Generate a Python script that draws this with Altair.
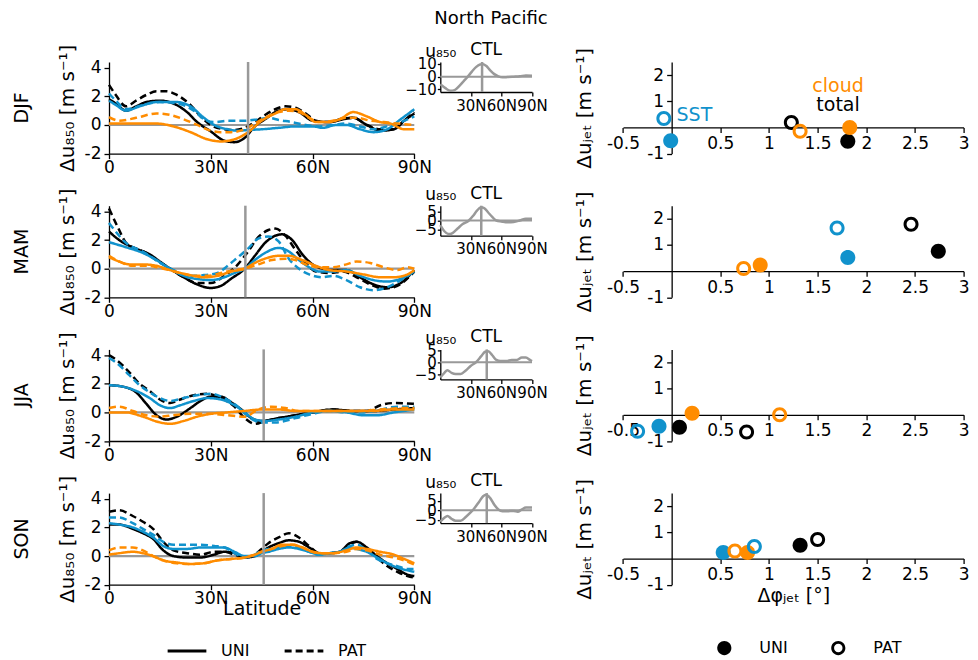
import altair as alt
import pandas as pd

BLACK = "#000000"
BLUE = "#1192cc"
ORANGE = "#ff8c00"
GRAY = "#999999"

SEASONS = ["DJF", "MAM", "JJA", "SON"]
VARS = ["total", "SST", "cloud"]
TYPES = ["UNI", "PAT"]
JET_LAT = [41.0, 40.2, 45.6, 45.6]

# ---- zonal-mean wind response curves (lat, du850) ----
DJF_TOTAL_UNI = [(0,1.8),(2,1.5),(5,1.0),(8,1.3),(11,1.6),(15,1.7),(19,1.5),(23,0.9),(26,0.2),(30,-0.45),(34,-1.1),(37,-1.2),(40,-0.9),(43,-0.1),(46,0.4),(50,1.0),(53,1.1),(56,0.9),(60,0.3),(65,0.2),(69,0.4),(72,0.5),(76,0.0),(80,-0.4),(84,-0.3),(87,0.3),(90,0.8)]
DJF_TOTAL_PAT = [(0,2.8),(2,2.1),(5,1.3),(8,1.7),(11,2.1),(14,2.35),(17,2.35),(20,2.1),(24,1.4),(27,0.6),(30,0.0),(34,-0.3),(37,-0.35),(40,-0.2),(43,0.2),(46,0.7),(49,1.1),(52,1.3),(55,1.2),(58,0.8),(61,0.3),(65,0.2),(69,0.45),(72,0.5),(76,0.0),(80,-0.3),(84,-0.3),(87,0.3),(90,0.9)]
DJF_SST_UNI = [(0,1.7),(2,1.4),(5,1.0),(9,1.3),(14,1.6),(20,1.6),(24,1.3),(28,0.5),(31,0.0),(35,-0.3),(38,-0.4),(41,-0.35),(45,-0.3),(50,-0.2),(55,-0.1),(60,-0.1),(63,-0.2),(67,0.0),(70,0.0),(74,-0.3),(78,-0.5),(82,-0.3),(86,0.4),(90,1.1)]
DJF_SST_PAT = [(0,2.2),(2,1.7),(5,1.1),(10,1.4),(15,1.6),(20,1.5),(25,1.0),(28,0.4),(31,0.2),(35,0.3),(40,0.3),(44,0.4),(47,0.5),(50,0.35),(54,0.2),(58,0.0),(62,-0.1),(66,0.0),(70,0.1),(74,-0.1),(78,-0.3),(82,-0.1),(86,0.2),(90,0.6)]
DJF_CLOUD_UNI = [(0,0.1),(5,0.1),(10,0.1),(14,0.1),(19,-0.1),(24,-0.5),(29,-1.0),(33,-1.15),(37,-1.0),(41,-0.5),(45,0.3),(49,0.8),(52,1.1),(55,1.1),(58,0.7),(61,0.2),(64,0.2),(68,0.4),(72,0.9),(76,0.6),(80,0.2),(83,0.1),(87,-0.3),(90,-0.3)]
DJF_CLOUD_PAT = [(0,0.55),(3,0.3),(8,0.5),(14,0.8),(18,0.7),(22,0.4),(26,0.0),(30,-0.4),(33,-0.5),(36,-0.5),(40,-0.3),(43,0.1),(46,0.5),(50,0.9),(53,1.0),(56,0.9),(59,0.5),(62,0.2),(66,0.3),(70,0.5),(73,0.5),(77,0.3),(81,0.2),(85,0.1),(90,0.0)]

MAM_TOTAL_UNI = [(0,2.6),(3,2.0),(6,1.6),(9,1.3),(12,1.0),(15,0.5),(18,0.0),(22,-0.6),(26,-1.1),(30,-1.35),(33,-1.2),(36,-0.7),(40,0.0),(43,0.9),(46,1.8),(49,2.3),(51,2.4),(54,2.0),(57,1.0),(60,0.3),(63,0.0),(66,-0.1),(70,-0.1),(74,-0.6),(78,-1.1),(82,-1.3),(86,-1.0),(90,-0.1)]
MAM_TOTAL_PAT = [(0,4.2),(3,2.7),(5,1.8),(8,1.4),(11,1.1),(14,0.6),(18,0.0),(22,-0.6),(26,-1.0),(30,-1.0),(34,-0.5),(38,0.3),(41,1.2),(44,2.2),(47,2.7),(49,2.8),(52,2.3),(55,1.3),(58,0.4),(61,-0.2),(65,-0.3),(69,-0.2),(73,-0.6),(77,-1.1),(81,-1.4),(85,-1.2),(90,-0.2)]
MAM_SST_UNI = [(0,1.85),(5,1.5),(10,1.1),(14,0.6),(18,0.0),(22,-0.5),(27,-0.75),(30,-0.8),(34,-0.6),(37,-0.3),(40,0.0),(43,0.6),(46,1.1),(50,1.45),(53,1.2),(56,0.6),(59,0.1),(62,-0.2),(66,-0.2),(70,-0.1),(74,-0.5),(78,-0.8),(82,-0.9),(86,-0.7),(90,-0.2)]
MAM_SST_PAT = [(0,3.2),(3,2.3),(5,1.8),(9,1.3),(12,0.9),(15,0.4),(19,-0.1),(24,-0.5),(28,-0.45),(32,-0.3),(35,0.2),(38,0.8),(41,1.4),(44,2.1),(47,2.25),(50,1.9),(53,0.7),(56,0.0),(59,-0.4),(63,-0.6),(66,-0.5),(70,-0.8),(74,-1.3),(78,-1.5),(82,-1.3),(86,-0.8),(90,-0.2)]
MAM_CLOUD_UNI = [(0,0.8),(3,0.5),(6,0.3),(10,0.3),(14,0.2),(18,-0.1),(23,-0.4),(28,-0.6),(32,-0.5),(36,-0.2),(40,0.0),(43,0.4),(46,0.7),(50,0.9),(53,0.9),(57,0.6),(61,0.2),(65,-0.1),(70,-0.2),(75,-0.4),(80,-0.6),(84,-0.6),(88,-0.4),(90,-0.1)]
MAM_CLOUD_PAT = [(0,0.9),(3,0.5),(7,0.2),(11,0.2),(16,0.0),(21,-0.3),(25,-0.5),(29,-0.5),(33,-0.3),(37,-0.1),(40,0.0),(44,0.3),(48,0.6),(52,0.7),(55,0.6),(58,0.3),(62,0.1),(66,0.1),(70,0.3),(73,0.5),(77,0.4),(81,0.1),(85,-0.1),(88,0.1),(90,0.0)]

JJA_TOTAL_UNI = [(0,1.9),(4,1.8),(8,1.4),(11,0.6),(14,-0.2),(17,-0.5),(20,-0.3),(24,0.3),(27,0.8),(30,1.1),(33,1.1),(36,0.7),(39,0.2),(42,-0.4),(45,-0.6),(50,-0.4),(55,-0.2),(60,0.0),(66,0.2),(72,0.1),(78,0.1),(84,0.2),(90,0.3)]
JJA_TOTAL_PAT = [(0,4.0),(2,3.7),(6,2.8),(9,2.0),(12,1.5),(15,0.9),(18,0.65),(21,0.9),(25,1.2),(29,1.3),(33,1.0),(37,0.4),(40,-0.4),(43,-0.8),(46,-0.6),(50,-0.4),(55,-0.2),(60,0.0),(66,0.2),(72,0.1),(76,0.1),(80,0.5),(84,0.65),(90,0.6)]
JJA_SST_UNI = [(0,1.9),(4,1.8),(8,1.5),(12,1.0),(15,0.5),(18,0.3),(21,0.5),(25,0.8),(29,1.0),(33,0.9),(37,0.5),(40,0.0),(43,-0.5),(46,-0.6),(50,-0.5),(55,-0.3),(60,0.0),(65,0.1),(70,0.0),(75,-0.2),(79,-0.2),(84,0.0),(90,0.2)]
JJA_SST_PAT = [(0,3.8),(2,3.5),(6,2.6),(9,1.9),(12,1.4),(15,1.0),(18,0.8),(22,1.0),(26,1.2),(30,1.3),(34,1.0),(38,0.4),(41,-0.3),(45,-0.7),(49,-0.7),(55,-0.4),(60,-0.1),(65,0.1),(70,0.0),(75,0.0),(80,0.2),(85,0.4),(90,0.4)]
JJA_CLOUD_UNI = [(0,0.0),(5,0.0),(10,-0.3),(15,-0.7),(18,-0.8),(22,-0.6),(26,-0.3),(30,-0.1),(35,0.0),(40,0.1),(45,0.2),(50,0.2),(55,0.1),(60,0.1),(66,0.1),(72,0.1),(78,0.1),(84,0.2),(90,0.2)]
JJA_CLOUD_PAT = [(0,0.3),(3,0.4),(7,0.1),(11,-0.2),(15,-0.3),(19,-0.2),(24,-0.1),(30,-0.1),(35,-0.2),(40,-0.3),(44,0.2),(48,0.4),(52,0.3),(56,0.1),(62,0.1),(68,0.1),(74,0.1),(80,0.2),(86,0.3),(90,0.3)]

SON_TOTAL_UNI = [(0,2.2),(3,2.2),(7,1.9),(10,1.6),(13,1.2),(16,0.4),(19,0.0),(23,-0.1),(27,-0.1),(31,0.1),(34,0.3),(37,0.2),(40,-0.1),(43,0.0),(45,0.3),(47,0.6),(50,0.9),(53,1.1),(56,1.0),(59,0.6),(62,0.2),(65,0.2),(68,0.3),(71,0.9),(73,1.0),(76,0.6),(79,0.0),(82,-0.5),(85,-0.9),(88,-1.3),(90,-1.4)]
SON_TOTAL_PAT = [(0,3.1),(3,3.2),(7,2.8),(10,2.4),(13,1.9),(16,1.0),(19,0.4),(23,0.2),(27,0.1),(31,0.3),(34,0.3),(37,0.1),(40,-0.1),(43,0.1),(45,0.5),(47,0.9),(50,1.3),(53,1.6),(56,1.3),(59,0.7),(62,0.2),(65,0.2),(68,0.3),(71,0.8),(73,1.0),(76,0.5),(79,-0.1),(82,-0.7),(85,-1.1),(88,-1.4),(90,-1.5)]
SON_SST_UNI = [(0,2.3),(3,2.2),(7,2.0),(10,1.7),(13,1.3),(16,0.7),(19,0.5),(23,0.5),(27,0.6),(31,0.6),(34,0.6),(37,0.3),(40,0.0),(43,0.0),(45,0.2),(47,0.3),(50,0.5),(53,0.6),(56,0.5),(59,0.3),(62,0.1),(65,0.2),(68,0.3),(71,0.6),(73,0.5),(76,0.3),(79,-0.1),(82,-0.5),(85,-0.8),(88,-1.0),(90,-1.1)]
SON_SST_PAT = [(0,2.7),(3,2.7),(7,2.3),(10,1.9),(13,1.5),(16,1.0),(19,0.8),(23,0.8),(27,0.8),(31,0.7),(34,0.6),(37,0.2),(40,-0.1),(43,0.1),(45,0.4),(47,0.5),(50,0.6),(53,0.7),(56,0.6),(59,0.3),(62,0.1),(65,0.2),(68,0.3),(71,0.7),(73,0.8),(76,0.4),(79,-0.2),(82,-0.5),(85,-0.7),(88,-0.9),(90,-0.9)]
SON_CLOUD_UNI = [(0,0.1),(3,0.2),(7,0.3),(10,0.2),(13,0.0),(16,-0.3),(20,-0.45),(24,-0.55),(28,-0.5),(32,-0.3),(36,-0.2),(40,-0.1),(43,0.1),(45,0.3),(48,0.5),(51,0.8),(54,0.8),(57,0.6),(60,0.3),(63,0.2),(66,0.2),(70,0.4),(73,0.6),(76,0.5),(80,0.3),(84,0.1),(87,-0.2),(90,-0.5)]
SON_CLOUD_PAT = [(0,0.4),(3,0.6),(7,0.6),(10,0.4),(13,0.0),(16,-0.3),(20,-0.5),(24,-0.55),(28,-0.5),(32,-0.3),(36,-0.2),(40,-0.1),(43,0.1),(45,0.3),(48,0.5),(51,0.7),(54,0.8),(57,0.6),(60,0.3),(63,0.2),(66,0.2),(70,0.3),(73,0.5),(76,0.4),(80,0.1),(84,-0.1),(87,-0.3),(90,-0.6)]

CURVES = {
    "DJF": {("total", "UNI"): DJF_TOTAL_UNI, ("total", "PAT"): DJF_TOTAL_PAT,
            ("SST", "UNI"): DJF_SST_UNI, ("SST", "PAT"): DJF_SST_PAT,
            ("cloud", "UNI"): DJF_CLOUD_UNI, ("cloud", "PAT"): DJF_CLOUD_PAT},
    "MAM": {("total", "UNI"): MAM_TOTAL_UNI, ("total", "PAT"): MAM_TOTAL_PAT,
            ("SST", "UNI"): MAM_SST_UNI, ("SST", "PAT"): MAM_SST_PAT,
            ("cloud", "UNI"): MAM_CLOUD_UNI, ("cloud", "PAT"): MAM_CLOUD_PAT},
    "JJA": {("total", "UNI"): JJA_TOTAL_UNI, ("total", "PAT"): JJA_TOTAL_PAT,
            ("SST", "UNI"): JJA_SST_UNI, ("SST", "PAT"): JJA_SST_PAT,
            ("cloud", "UNI"): JJA_CLOUD_UNI, ("cloud", "PAT"): JJA_CLOUD_PAT},
    "SON": {("total", "UNI"): SON_TOTAL_UNI, ("total", "PAT"): SON_TOTAL_PAT,
            ("SST", "UNI"): SON_SST_UNI, ("SST", "PAT"): SON_SST_PAT,
            ("cloud", "UNI"): SON_CLOUD_UNI, ("cloud", "PAT"): SON_CLOUD_PAT},
}

# ---- CTL climatology insets (lat, u850) ----
CTL_DJF = [(0,-6),(5,-9),(10,-11),(14,-10.5),(19,-7),(23,-3.5),(27,0),(31,4),(35,7.5),(39,9.5),(42,9.8),(45,8.5),(49,5),(53,2),(57,0.3),(61,-0.5),(66,-0.3),(72,0),(78,0.3),(84,1),(90,0.8)]
CTL_MAM = [(0,-2.6),(4,-6),(8,-7.6),(12,-7),(17,-4.5),(22,-2),(28,0),(32,2.5),(36,5.5),(40,7.4),(43,7),(47,4.5),(51,2),(55,0),(60,-0.5),(66,-1),(72,-0.8),(78,0),(84,1),(90,1)]
CTL_JJA = [(0,-6.5),(4,-4.5),(7,-3.4),(11,-4.5),(15,-5),(20,-5),(25,-3.5),(30,-1.5),(35,0),(40,2.5),(44,4.5),(47,4.7),(51,3),(55,1),(59,0.5),(65,0.5),(70,1),(75,1),(80,2),(84,2),(88,1),(90,0.5)]
CTL_SON = [(0,-6),(4,-4),(7,-3),(11,-4.5),(15,-5.5),(20,-5.5),(25,-3.5),(30,-1),(34,1.5),(38,4.5),(42,7.5),(45,8.3),(49,6.5),(53,3),(57,0.5),(61,-0.5),(66,-0.5),(72,-0.3),(76,-0.7),(80,0.5),(84,1.5),(90,1.5)]
CTL = {"DJF": CTL_DJF, "MAM": CTL_MAM, "JJA": CTL_JJA, "SON": CTL_SON}
CTL_YDOM = {"DJF": [-12, 11.5], "MAM": [-8.5, 8.3], "JJA": [-7.3, 5.5], "SON": [-6.8, 9.2]}
CTL_YTICKS = {"DJF": [-10, 0, 10], "MAM": [-5, 0, 5], "JJA": [-5, 0, 5], "SON": [-5, 0, 5]}

# ---- jet shift / strength responses, order: total, SST, cloud ----
DPHI = {"DJF": {"UNI": [1.81, -0.01, 1.83], "PAT": [1.23, -0.08, 1.32]},
        "MAM": {"UNI": [2.74, 1.81, 0.91], "PAT": [2.46, 1.70, 0.74]},
        "JJA": {"UNI": [0.08, -0.13, 0.21], "PAT": [0.77, -0.35, 1.11]},
        "SON": {"UNI": [1.32, 0.53, 0.78], "PAT": [1.50, 0.85, 0.65]}}
DUJET = {"DJF": {"UNI": [-0.53, -0.51, 0.0], "PAT": [0.19, 0.34, -0.15]},
         "MAM": {"UNI": [0.76, 0.52, 0.23], "PAT": [1.79, 1.65, 0.10]},
         "JJA": {"UNI": [-0.47, -0.44, 0.06], "PAT": [-0.66, -0.63, 0.0]},
         "SON": {"UNI": [0.51, 0.23, 0.23], "PAT": [0.73, 0.46, 0.29]}}

ANNOT_TEXT = ["cloud", "total", "SST"]
ANNOT_VAR = ["cloud", "total", "SST"]
ANNOT_X = [1.71, 1.71, 0.05]
ANNOT_Y = [1.57, 0.86, 0.48]
ANNOT_ALIGN = ["center", "center", "left"]

FONT = "DejaVu Sans"
LW, LH = 305.3, 91.6
IW, IH = 91.7, 30
RW = 406.0
X_RANGE0 = 65.4
HYPHEN = "replace(format(datum.value, '~g'), '\u2212', '-')"

color_scale = alt.Scale(domain=VARS, range=[BLACK, BLUE, ORANGE])
dash_scale = alt.Scale(domain=TYPES, range=[[1, 0], [7, 4]])
CIRCLE = "M-1,0A1,1,0,1,0,1,0A1,1,0,1,0,-1,0Z"
RING = CIRCLE + "M-0.6,0A0.6,0.6,0,1,1,0.6,0A0.6,0.6,0,1,1,-0.6,0Z"
shape_scale = alt.Scale(domain=TYPES, range=[CIRCLE, RING])


def left_chart(i, s):
    rows = []
    for var in VARS:
        for typ in TYPES:
            for lat, v in CURVES[s][(var, typ)]:
                rows.append({"lat": lat, "du": v, "var": var, "type": typ})
    df = pd.DataFrame(rows)
    last = i == 3
    xax = alt.Axis(values=[0, 30, 60, 90],
                   labelExpr="datum.value == 0 ? '0' : datum.value + 'N'",
                   title="Latitude" if last else None, labelFontSize=17,
                   titleFontSize=19, tickSize=5, labelPadding=1, titlePadding=-7)
    yax = alt.Axis(values=[-2, 0, 2, 4], labelExpr=HYPHEN, title="Δu₈₅₀ [m s⁻¹]",
                   titleFontSize=20, labelFontSize=17, tickSize=5, labelPadding=3,
                   titleX=-42, titleY=LH / 2, titleAngle=270, titleAlign="center",
                   titleBaseline="middle")
    xs = alt.Scale(domain=[0, 90], nice=False)
    ys = alt.Scale(domain=[-2, 4.4], nice=False, zero=False)
    x = alt.X("lat:Q", scale=xs, axis=xax)
    y = alt.Y("du:Q", scale=ys, axis=yax)
    zero = alt.Chart(pd.DataFrame({"du": [0.0]})).mark_rule(color=GRAY, strokeWidth=2.2).encode(y=y)
    jet = alt.Chart(pd.DataFrame({"lat": [JET_LAT[i]]})).mark_rule(color=GRAY, strokeWidth=2.5).encode(x=x)
    if last:
        leg = alt.Legend(orient="none", legendX=57, legendY=137, direction="horizontal",
                         title=None, symbolType="stroke", symbolStrokeColor="black",
                         symbolStrokeWidth=3, symbolSize=1500, labelFontSize=16,
                         labelOffset=13, columnPadding=28, padding=0)
    else:
        leg = None
    lines = alt.Chart(df).mark_line(strokeWidth=2.5, interpolate="monotone").encode(
        x=x, y=y,
        color=alt.Color("var:N", scale=color_scale, legend=None),
        strokeDash=alt.StrokeDash("type:N", scale=dash_scale, legend=leg),
    )
    return alt.layer(zero, lines, jet).properties(
        width=LW, height=LH,
        title=alt.TitleParams(s, orient="left", fontSize=19, offset=25, anchor="middle"))


def inset_chart(i, s):
    df = pd.DataFrame(CTL[s], columns=["lat", "u"])
    xs = alt.Scale(domain=[0, 90], nice=False)
    ys = alt.Scale(domain=CTL_YDOM[s], nice=False, zero=False)
    xax = alt.Axis(values=[30, 60, 90], labelExpr="datum.value + 'N'", title=None,
                   labelFontSize=15, tickSize=4, labelPadding=2, labelOverlap=False)
    yax = alt.Axis(values=CTL_YTICKS[s], title="u₈₅₀", titleAngle=0, titleX=0, titleY=-2,
                   titleAlign="center", titleBaseline="bottom", titleFontSize=17,
                   labelFontSize=15, tickSize=3, labelPadding=1, labelOverlap=False)
    x = alt.X("lat:Q", scale=xs, axis=xax)
    y = alt.Y("u:Q", scale=ys, axis=yax)
    zero = alt.Chart(pd.DataFrame({"u": [0.0]})).mark_rule(color=GRAY, strokeWidth=2).encode(y=y)
    jet = alt.Chart(pd.DataFrame({"lat": [JET_LAT[i]]})).mark_rule(color=GRAY, strokeWidth=2.5).encode(x=x)
    line = alt.Chart(df).mark_line(color=GRAY, strokeWidth=2.5, interpolate="monotone").encode(x=x, y=y)
    return alt.layer(zero, line, jet).properties(
        width=IW, height=IH,
        title=alt.TitleParams("CTL", fontSize=17, offset=-17, anchor="middle"))


def right_chart(i, s):
    rows = []
    for typ in TYPES:
        for k, var in enumerate(VARS):
            rows.append({"dphi": DPHI[s][typ][k], "du": DUJET[s][typ][k], "var": var, "type": typ})
    df = pd.DataFrame(rows)
    last = i == 3
    xs = alt.Scale(domain=[-0.5, 3], range=[X_RANGE0, RW], nice=False, zero=False)
    ys = alt.Scale(domain=[-1, 2.5], nice=False, zero=False)
    y0 = LH * 2.5 / 3.5
    x0 = X_RANGE0 + (RW - X_RANGE0) * 0.5 / 3.5
    xax = alt.Axis(values=[-0.5, 0.5, 1, 1.5, 2, 2.5, 3], labelExpr=HYPHEN, offset=-(LH - y0),
                   title="Δφⱼₑₜ [°]" if last else None, labelFontSize=17, titleFontSize=19,
                   tickSize=5, labelPadding=3, titlePadding=4)
    yax = alt.Axis(values=[-1, 1, 2], labelExpr=HYPHEN, offset=-x0, title="Δuⱼₑₜ [m s⁻¹]",
                   titleFontSize=20, labelFontSize=17, tickSize=5, labelPadding=3,
                   titleX=-87, titleY=LH / 2, titleAngle=270, titleAlign="center",
                   titleBaseline="middle")
    x = alt.X("dphi:Q", scale=xs, axis=xax)
    y = alt.Y("du:Q", scale=ys, axis=yax)
    if last:
        leg = alt.Legend(orient="none", legendX=158.7, legendY=147, direction="horizontal",
                         title=None, symbolFillColor="black", symbolStrokeWidth=0,
                         symbolSize=200, labelFontSize=16, labelOffset=27,
                         columnPadding=42, padding=0)
    else:
        leg = None
    pts = alt.Chart(df).mark_point(filled=True, opacity=1, size=225, strokeWidth=0).encode(
        x=x, y=y,
        color=alt.Color("var:N", scale=color_scale, legend=None),
        shape=alt.Shape("type:N", scale=shape_scale, legend=leg),
    )
    layers = [pts]
    if i == 0:
        ann = pd.DataFrame({"label": ANNOT_TEXT, "var": ANNOT_VAR, "dphi": ANNOT_X,
                            "du": ANNOT_Y, "align": ANNOT_ALIGN})
        for al in ["center", "left"]:
            layers.append(
                alt.Chart(ann[ann["align"] == al]).mark_text(fontSize=19, align=al, baseline="middle").encode(
                    x=x, y=y, text="label:N",
                    color=alt.Color("var:N", scale=color_scale, legend=None)))
    return alt.layer(*layers).properties(width=RW, height=LH)


panels = []
for i, s in enumerate(SEASONS):
    panels += [left_chart(i, s), inset_chart(i, s), right_chart(i, s)]

chart = alt.concat(
    *panels, columns=3, spacing={"row": 51.7, "column": 25.3}, bounds="flush", align="each",
    title=alt.TitleParams("North Pacific", fontSize=18, anchor="middle", frame="bounds", offset=13),
).resolve_scale(
    strokeDash="independent", shape="independent"
).resolve_legend(
    strokeDash="independent", shape="independent"
).properties(
    padding={"left": 4, "top": 2, "right": 0, "bottom": 5}
).configure(font=FONT).configure_view(stroke=None).configure_axis(
    grid=False, domainColor="black", tickColor="black", labelColor="black", titleColor="black",
    titleFontWeight="normal", labelFont=FONT, titleFont=FONT, domainWidth=1.3, tickWidth=1.3,
    labelFlush=False,
).configure_title(font=FONT, fontWeight="normal", color="black").configure_legend(
    labelFont=FONT, labelColor="black")

chart.save("out.html", embed_options={"renderer": "svg", "actions": False})
